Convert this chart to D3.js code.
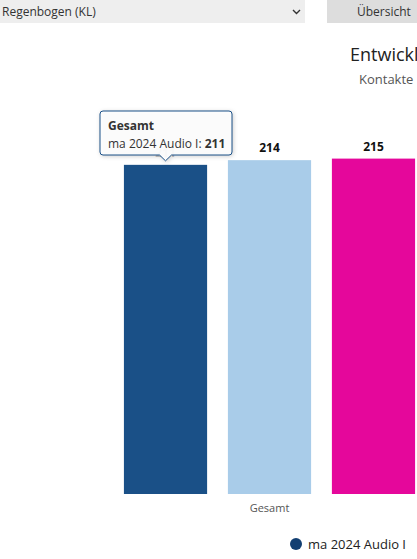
<!DOCTYPE html>
<html>
<head>
<meta charset="utf-8">
<script src="https://cdn.jsdelivr.net/npm/d3@7"></script>
<style>
  body { margin: 0; background: #fff; font-family: "Open Sans", sans-serif; overflow: hidden; }
  #chart { width: 417px; height: 559px; }
</style>
</head>
<body>
<div id="chart"></div>
<script>
// Chart data
const categories = ['Gesamt'];
const seriesNames = ['ma 2024 Audio I', 'ma 2024 Audio II', 'ma 2025 Audio I'];
const seriesValues = [211, 214, 215];
const seriesColors = ['#1a5087', '#a9cce9', '#e5079b'];
const yTicks = [0, 250];

const width = 417;
const height = 559;

const svg = d3.select('#chart')
    .append('svg')
    .attr('width', width)
    .attr('height', height)
    .style('font-family', '"Open Sans", sans-serif');

// Header controls (dropdown + button)
svg.append('rect').attr('x', 0).attr('y', 0).attr('width', 305).attr('height', 23).attr('fill', '#eeeeee');
svg.append('text').attr('x', 2).attr('y', 16).attr('font-size', '12px').attr('fill', '#333').text('Regenbogen (KL)');
svg.append('path')
    .attr('d', 'M293,10 L296.5,13.5 L300,10')
    .attr('fill', 'none').attr('stroke', '#333').attr('stroke-width', 1.4);
svg.append('rect').attr('x', 327).attr('y', 0).attr('width', 100).attr('height', 23).attr('fill', '#dddddd');
svg.append('text').attr('x', 357).attr('y', 16).attr('font-size', '12px').attr('fill', '#333').text('Übersicht');

// Titles (chart is wider than the visible window, so they run off the edge)
svg.append('text').attr('x', 350).attr('y', 61).attr('font-size', '18px').attr('fill', '#222').text('Entwicklung');
svg.append('text').attr('x', 359).attr('y', 84).attr('font-size', '13px').attr('fill', '#555').text('Kontakte');

// Scales
const plotTop = 104, plotBottom = 494;
const y = d3.scaleLinear().domain([yTicks[0], yTicks[1]]).range([plotBottom, plotTop]);

const x0 = d3.scaleBand().domain(categories).range([100, 439]).padding(0);
const x1 = d3.scaleBand().domain(seriesNames)
    .range([0, x0.bandwidth()])
    .paddingInner(0.2)
    .paddingOuter(0.23);

const color = d3.scaleOrdinal().domain(seriesNames).range(seriesColors);

const bars = seriesNames.map((name, i) => ({ cat: categories[0], name, value: seriesValues[i] }));

// Bars
svg.append('g')
    .selectAll('rect')
    .data(bars)
    .join('rect')
    .attr('x', d => x0(d.cat) + x1(d.name))
    .attr('y', d => y(d.value))
    .attr('width', x1.bandwidth())
    .attr('height', d => plotBottom - y(d.value))
    .attr('fill', d => color(d.name));

// Data labels
svg.append('g')
    .selectAll('text')
    .data(bars)
    .join('text')
    .attr('x', d => x0(d.cat) + x1(d.name) + x1.bandwidth() / 2)
    .attr('y', d => y(d.value) - 8)
    .attr('text-anchor', 'middle')
    .attr('font-size', '12px')
    .attr('font-weight', 'bold')
    .attr('fill', (d, i) => i === 0 ? '#c8c8c8' : '#111')
    .text(d => d.value);

// X axis label
svg.append('g')
    .attr('transform', `translate(0,${plotBottom})`)
    .call(d3.axisBottom(x0).tickSize(0).tickPadding(10))
    .call(g => g.select('.domain').remove())
    .selectAll('text')
    .attr('font-size', '11px')
    .attr('font-family', '"Open Sans", sans-serif')
    .attr('fill', '#555');

// Legend (only the first item falls inside the visible window)
const legendStep = 140;
const legendX = 296;
const legendData = seriesNames.filter((d, i) => legendX + i * legendStep + 110 <= width);
const legend = svg.append('g').attr('transform', `translate(${legendX},544)`);
const legendItem = legend.selectAll('g')
    .data(legendData)
    .join('g')
    .attr('transform', (d, i) => `translate(${i * legendStep},0)`);
legendItem.append('circle').attr('r', 6).attr('fill', (d, i) => i === 0 ? '#123f72' : color(d));
legendItem.append('text')
    .attr('x', 12).attr('y', 4.5)
    .attr('font-size', '13px')
    .attr('fill', '#222')
    .text(d => d);

// Tooltip for the first bar
const hovered = bars[0];
const tipX = x0(hovered.cat) + x1(hovered.name) + x1.bandwidth() / 2;
const tipY = y(hovered.value) - 4;
const tip = svg.append('g');
const bx = 100, by = 111, bw = 132, bh = 44;
tip.append('path')
    .attr('d', `M${bx + 3},${by} H${bx + bw - 3} Q${bx + bw},${by} ${bx + bw},${by + 3} V${by + bh - 3} Q${bx + bw},${by + bh} ${bx + bw - 3},${by + bh}
        H${tipX + 6} L${tipX},${tipY} L${tipX - 6},${by + bh} H${bx + 3} Q${bx},${by + bh} ${bx},${by + bh - 3} V${by + 3} Q${bx},${by} ${bx + 3},${by} Z`)
    .attr('fill', 'rgba(255,255,255,0.9)')
    .attr('stroke', color(hovered.name))
    .attr('stroke-width', 1)
    .style('filter', 'drop-shadow(1px 1px 2px rgba(0,0,0,0.2))');
tip.append('text').attr('x', bx + 8).attr('y', by + 19)
    .attr('font-size', '12px').attr('font-weight', 'bold').attr('fill', '#333').text(hovered.cat);
const line2 = tip.append('text').attr('x', bx + 8).attr('y', by + 37)
    .attr('font-size', '12px').attr('fill', '#333');
line2.append('tspan').text(hovered.name + ': ');
line2.append('tspan').attr('font-weight', 'bold').text(hovered.value);
</script>
</body>
</html>
